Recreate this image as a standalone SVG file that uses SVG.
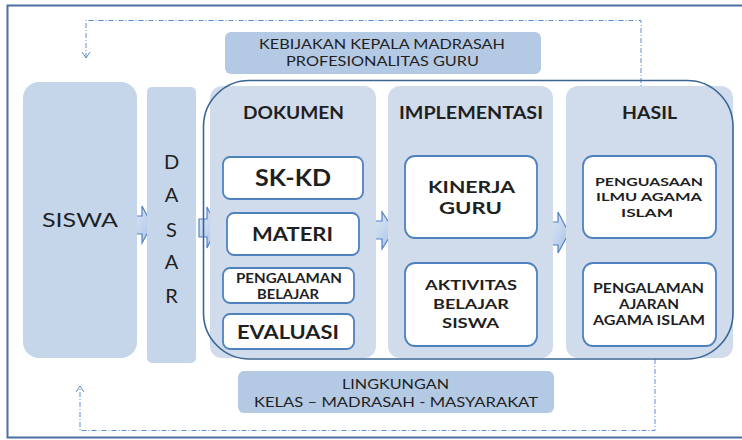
<svg xmlns="http://www.w3.org/2000/svg" width="742" height="440" viewBox="0 0 742 440">
<style>
.t{font-family:Lato,"Open Sans","Liberation Sans",sans-serif;fill:#1f1f1f;text-anchor:middle}
.b{font-weight:bold}
.sub{fill:#fff;stroke:#4f81bd;stroke-width:1.8}
.col{fill:#d0dcec}
.side{fill:#c5d6eb}
.lab{fill:#b4c9e4}
.dd{fill:none;stroke:#5b8fd0;stroke-width:1;stroke-dasharray:5 2 1 2}
.ah{fill:none;stroke:#5b8fd0;stroke-width:1}
.blk{fill:url(#g);stroke:#4f81c7;stroke-width:1.2}
</style>
<defs>
<linearGradient id="g" x1="0" y1="0" x2="1" y2="1">
<stop offset="0" stop-color="#e0e9f6"/>
<stop offset="1" stop-color="#a7c1e5"/>
</linearGradient>
</defs>
<rect x="0" y="0" width="742" height="440" fill="#fff"/>
<rect x="7.5" y="5.5" width="760" height="432" fill="none" stroke="#4a6fa0" stroke-width="2"/>

<g id="connectors">
<polyline class="dd" points="86,58 86,20.5 641,20.5 641,86"/>
<polyline class="ah" points="82,52 86,58 90,52"/>
<polyline class="dd" points="655,359 655,430.5 80,430.5 80,386"/>
<polyline class="ah" points="76,392 80,386 84,392"/>
<path class="blk" d="M132,216 H142 V206 L152,225 L142,243 V234 H132 Z"/>
<path class="blk" d="M199,219 H207 V207 L217,227 L207,248 V237 H199 Z"/>
<path class="blk" d="M373,221 H382 V212 L394,230 L382,249 V239 H373 Z"/>
<path class="blk" d="M549,222 H558 V212 L569,233 L558,253 V245 H549 Z"/>
</g>

<g id="kebijakan">
<rect class="lab" x="225" y="32" width="316" height="42" rx="6"/>
<text class="t" x="382" y="49.3" font-size="12.5" textLength="246" lengthAdjust="spacingAndGlyphs">KEBIJAKAN KEPALA MADRASAH</text>
<text class="t" x="382.5" y="66" font-size="12.5" textLength="193" lengthAdjust="spacingAndGlyphs">PROFESIONALITAS GURU</text>
</g>

<g id="lingkungan">
<rect class="lab" x="238" y="371" width="316" height="42" rx="6"/>
<text class="t" x="395.5" y="389.3" font-size="12.5" textLength="107" lengthAdjust="spacingAndGlyphs">LINGKUNGAN</text>
<text class="t" x="396" y="406.7" font-size="12.5" textLength="284" lengthAdjust="spacingAndGlyphs">KELAS – MADRASAH - MASYARAKAT</text>
</g>

<g id="siswa">
<rect class="side" x="23" y="82" width="114" height="276" rx="16"/>
<text class="t" x="80" y="227.3" font-size="18.5" textLength="76" lengthAdjust="spacingAndGlyphs">SISWA</text>
</g>

<g id="dasar">
<rect class="side" x="147" y="87" width="49" height="276" rx="5"/>
<text class="t" x="171.5" y="169.3" font-size="20">D</text>
<text class="t" x="171.5" y="201.7" font-size="20">A</text>
<text class="t" x="171.5" y="236.7" font-size="20">S</text>
<text class="t" x="171.5" y="269.3" font-size="20">A</text>
<text class="t" x="171.5" y="302.7" font-size="20">R</text>
</g>

<g id="dokumen">
<rect class="col" x="210" y="86" width="166" height="272" rx="12"/>
<text class="t b" x="293.5" y="119.3" font-size="16.5" textLength="101" lengthAdjust="spacingAndGlyphs">DOKUMEN</text>
</g>
<g id="implementasi">
<rect class="col" x="388" y="86" width="165" height="272" rx="12"/>
<text class="t b" x="471" y="119.3" font-size="16.5" textLength="144" lengthAdjust="spacingAndGlyphs">IMPLEMENTASI</text>
</g>
<g id="hasil">
<rect class="col" x="566" y="86" width="167" height="272" rx="12"/>
<text class="t b" x="649.5" y="119.3" font-size="16.5" textLength="55" lengthAdjust="spacingAndGlyphs">HASIL</text>
</g>

<g id="outline">
<rect x="203.5" y="80.5" width="529.5" height="278.5" rx="46" fill="none" stroke="#3b6593" stroke-width="1.6"/>
</g>

<g id="skkd">
<rect class="sub" x="223" y="157" width="140" height="42" rx="7"/>
<text class="t b" x="293" y="186" font-size="22" textLength="76" lengthAdjust="spacingAndGlyphs">SK-KD</text>
</g>
<g id="materi">
<rect class="sub" x="227" y="213" width="132" height="42" rx="7"/>
<text class="t b" x="292.5" y="240.7" font-size="19.5" textLength="81" lengthAdjust="spacingAndGlyphs">MATERI</text>
</g>
<g id="pengalaman-belajar">
<rect class="sub" x="223" y="268" width="131" height="35" rx="7"/>
<text class="t b" x="289" y="283.3" font-size="12.3" textLength="106" lengthAdjust="spacingAndGlyphs">PENGALAMAN</text>
<text class="t b" x="288" y="299" font-size="12.3" textLength="62" lengthAdjust="spacingAndGlyphs">BELAJAR</text>
</g>
<g id="evaluasi">
<rect class="sub" x="223" y="314" width="131" height="35" rx="7"/>
<text class="t b" x="288" y="339.3" font-size="19" textLength="102" lengthAdjust="spacingAndGlyphs">EVALUASI</text>
</g>

<g id="kinerja-guru">
<rect class="sub" x="405" y="156" width="132" height="82" rx="10"/>
<text class="t b" x="471.5" y="192.7" font-size="17.5" textLength="87" lengthAdjust="spacingAndGlyphs">KINERJA</text>
<text class="t b" x="470.5" y="214" font-size="17.5" textLength="63" lengthAdjust="spacingAndGlyphs">GURU</text>
</g>
<g id="aktivitas">
<rect class="sub" x="405" y="263" width="132" height="83" rx="10"/>
<text class="t b" x="471" y="290" font-size="14" textLength="92" lengthAdjust="spacingAndGlyphs">AKTIVITAS</text>
<text class="t b" x="471" y="309.3" font-size="14" textLength="76" lengthAdjust="spacingAndGlyphs">BELAJAR</text>
<text class="t b" x="470.5" y="328.3" font-size="14" textLength="57" lengthAdjust="spacingAndGlyphs">SISWA</text>
</g>

<g id="penguasaan">
<rect class="sub" x="583" y="156" width="133" height="82" rx="10"/>
<text class="t b" x="649" y="186" font-size="12" textLength="108" lengthAdjust="spacingAndGlyphs">PENGUASAAN</text>
<text class="t b" x="649" y="201.2" font-size="12" textLength="106" lengthAdjust="spacingAndGlyphs">ILMU AGAMA</text>
<text class="t b" x="647" y="216.7" font-size="12" textLength="52" lengthAdjust="spacingAndGlyphs">ISLAM</text>
</g>
<g id="pengalaman-ajaran">
<rect class="sub" x="583" y="263" width="133" height="83" rx="10"/>
<text class="t b" x="648.5" y="293.3" font-size="12.4" textLength="111" lengthAdjust="spacingAndGlyphs">PENGALAMAN</text>
<text class="t b" x="649" y="309.3" font-size="12.4" textLength="60" lengthAdjust="spacingAndGlyphs">AJARAN</text>
<text class="t b" x="649" y="324.5" font-size="12.4" textLength="112" lengthAdjust="spacingAndGlyphs">AGAMA ISLAM</text>
</g>
</svg>
